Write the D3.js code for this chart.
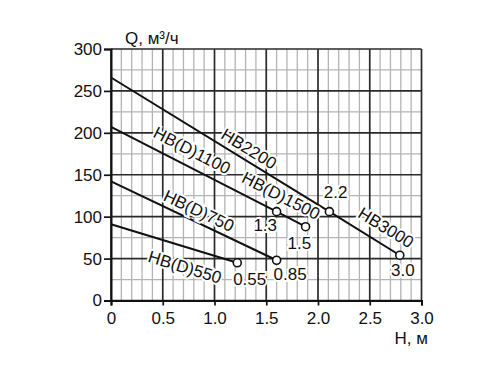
<!DOCTYPE html>
<html>
<head>
<meta charset="utf-8">
<script src="https://cdn.jsdelivr.net/npm/d3@7"></script>
<style>
  body { margin: 0; background: #fff; }
  svg { display: block; font-family: "Liberation Sans", Arial, sans-serif; }
  .tick text { font-size: 17px; fill: #111; }
</style>
</head>
<body>
<div id="chart"></div>
<script>
// Curves: head H (m) vs flow Q (m3/h)
const curveH = [[0, 2.11, 2.79], [0, 1.60, 1.88], [0, 1.60], [0, 1.22]];
const curveQ = [[266, 106, 54], [207, 106, 88], [142, 48], [91, 45]];

// Marker points (open circles) and their power labels
const pointH = [2.11, 2.79, 1.60, 1.88, 1.60, 1.22];
const pointQ = [106, 54, 106, 88, 48, 45];
const pointText = ["2.2", "3.0", "1.3", "1.5", "0.85", "0.55"];
const pointTextH = [2.17, 2.82, 1.49, 1.82, 1.73, 1.34];
const pointTextQ = [129, 36, 90, 69, 31, 25];

// Model names written along curves
const modelText = ["HB2200", "HB3000", "HB(D)1100", "HB(D)1500", "HB(D)750", "HB(D)550"];
const modelCurve = [0, 0, 1, 1, 2, 3];
const modelH = [1.333, 2.657, 0.783, 1.643, 0.85, 0.715];
const modelQ = [181, 87, 179, 125, 107, 40];

const xTicks = [0, 0.5, 1.0, 1.5, 2.0, 2.5, 3.0];
const yTicks = [0, 50, 100, 150, 200, 250, 300];

const W = 500, H = 375;
const margin = { top: 49, left: 111, right: 78.5, bottom: 74.5 };
const width = W - margin.left - margin.right;
const height = H - margin.top - margin.bottom;
const fs = 17;

const svg = d3.select("#chart").append("svg")
  .attr("width", W).attr("height", H);

const g = svg.append("g").attr("transform", `translate(${margin.left},${margin.top})`);

const x = d3.scaleLinear().domain([0, 3]).range([0, width]);
const y = d3.scaleLinear().domain([0, 300]).range([height, 0]);

// minor grid
const minorX = d3.range(0, 31).map((d) => d / 10).filter((d) => Math.round(d * 10) % 5 !== 0);
const minorY = d3.range(25, 300, 50);
g.selectAll(".gx-minor").data(minorX).enter().append("line")
  .attr("x1", (d) => x(d)).attr("x2", (d) => x(d))
  .attr("y1", 0).attr("y2", height)
  .attr("stroke", "#b4b4b4").attr("stroke-width", 1.3);
g.selectAll(".gy-minor").data(minorY).enter().append("line")
  .attr("x1", 0).attr("x2", width)
  .attr("y1", (d) => y(d)).attr("y2", (d) => y(d))
  .attr("stroke", "#b4b4b4").attr("stroke-width", 1.3);

// major grid
g.selectAll(".gx-major").data(xTicks).enter().append("line")
  .attr("x1", (d) => x(d)).attr("x2", (d) => x(d))
  .attr("y1", 0).attr("y2", height)
  .attr("stroke", "#2a2a2a").attr("stroke-width", 1.7);
g.selectAll(".gy-major").data(yTicks).enter().append("line")
  .attr("x1", 0).attr("x2", width)
  .attr("y1", (d) => y(d)).attr("y2", (d) => y(d))
  .attr("stroke", "#2a2a2a").attr("stroke-width", 1.7);

// axes
const yAxis = g.append("g")
  .call(d3.axisLeft(y).tickValues(yTicks).tickSize(7).tickPadding(2).tickFormat(d3.format("d")));
const xAxis = g.append("g").attr("transform", `translate(0,${height})`)
  .call(d3.axisBottom(x).tickValues(xTicks).tickSize(5).tickPadding(6)
    .tickFormat((d) => (d === 0 ? "0" : d3.format(".1f")(d))));
[xAxis, yAxis].forEach((a) => {
  a.select(".domain").attr("stroke", "#111").attr("stroke-width", 2);
  a.selectAll(".tick line").attr("stroke", "#111").attr("stroke-width", 1.7);
});

// curves
const line = d3.line().x((d) => x(d[0])).y((d) => y(d[1]));
curveH.forEach((hs, i) => {
  g.append("path")
    .datum(hs.map((h, j) => [h, curveQ[i][j]]))
    .attr("d", line)
    .attr("fill", "none")
    .attr("stroke", "#111")
    .attr("stroke-width", 2);
});

function curveAngle(i) {
  const hs = curveH[i], qs = curveQ[i];
  const n = hs.length - 1;
  return Math.atan2(y(qs[n]) - y(qs[0]), x(hs[n]) - x(hs[0])) * 180 / Math.PI;
}

// model labels with white halo
modelText.forEach((t, i) => {
  g.append("text")
    .attr("transform", `translate(${x(modelH[i])},${y(modelQ[i])}) rotate(${curveAngle(modelCurve[i])})`)
    .attr("text-anchor", "middle")
    .attr("dy", "0.35em")
    .attr("font-size", fs)
    .attr("fill", "#111")
    .attr("stroke", "#fff")
    .attr("stroke-width", 4)
    .attr("paint-order", "stroke")
    .text(t);
});

// marker circles
g.selectAll(".pt").data(pointH).enter().append("circle")
  .attr("cx", (d) => x(d))
  .attr("cy", (d, i) => y(pointQ[i]))
  .attr("r", 4)
  .attr("fill", "#fff")
  .attr("stroke", "#111")
  .attr("stroke-width", 1.6);

// power labels
pointText.forEach((t, i) => {
  g.append("text")
    .attr("x", x(pointTextH[i]))
    .attr("y", y(pointTextQ[i]))
    .attr("text-anchor", "middle")
    .attr("dy", "0.35em")
    .attr("font-size", fs)
    .attr("fill", "#111")
    .attr("stroke", "#fff")
    .attr("stroke-width", 4)
    .attr("paint-order", "stroke")
    .text(t);
});

// axis titles
svg.append("text")
  .attr("x", 125).attr("y", 44)
  .attr("font-size", fs).attr("fill", "#111")
  .text("Q, м³/ч");
svg.append("text")
  .attr("x", 428).attr("y", 344)
  .attr("text-anchor", "end")
  .attr("font-size", fs).attr("fill", "#111")
  .text("H, м");
</script>
</body>
</html>
